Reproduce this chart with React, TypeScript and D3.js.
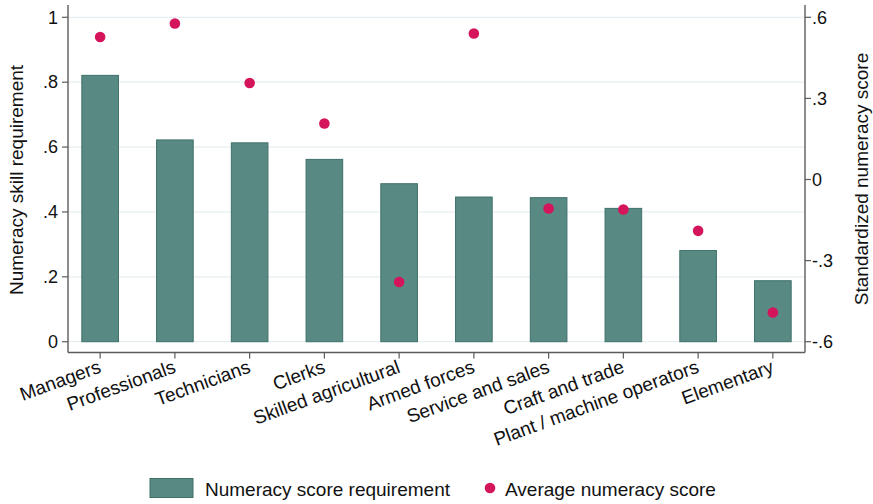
import React from "react";
import * as d3 from "d3";

const categories = [
  "Managers",
  "Professionals",
  "Technicians",
  "Clerks",
  "Skilled agricultural",
  "Armed forces",
  "Service and sales",
  "Craft and trade",
  "Plant / machine operators",
  "Elementary",
];
const requirement = [0.821, 0.622, 0.613, 0.562, 0.487, 0.446, 0.444, 0.411, 0.281, 0.188];
const avgScore = [0.527, 0.577, 0.357, 0.207, -0.379, 0.54, -0.107, -0.111, -0.19, -0.492];
const leftTicks = [0, 0.2, 0.4, 0.6, 0.8, 1];
const leftTickLabels = ["0", ".2", ".4", ".6", ".8", "1"];
const rightTicks = [-0.6, -0.3, 0, 0.3, 0.6];
const rightTickLabels = ["-.6", "-.3", "0", ".3", ".6"];

const W = 873;
const H = 504;
const left = 68;
const right = 805;
const yTop = 17.3;
const yZero = 341.7;
const axisBottom = 352.5;
const axisTop = 5;
const FONT = "'Liberation Sans', Arial, sans-serif";
const BAR = "#588a83";
const BAR_STROKE = "#3f716a";
const DOT = "#d5155b";
const AXIS = "#5c5c5c";
const TEXT = "#111";

export default function App() {
  const x = d3.scalePoint<string>().domain(categories).range([left, right]).padding(0.43);
  const step = x.step();
  const bw = step * 0.49;
  const yL = d3.scaleLinear().domain([0, 1]).range([yZero, yTop]);
  const yR = d3.scaleLinear().domain([-0.6, 0.6]).range([yZero, yTop]);

  return (
    <svg width={W} height={H} style={{ position: "absolute", left: 0, top: 0, background: "#fff" }} fontFamily={FONT}>
      {/* grid */}
      {leftTicks.map((t) => (
        <line key={"g" + t} x1={left} x2={right} y1={yL(t)} y2={yL(t)} stroke="#e7eef2" strokeWidth={1.3} />
      ))}
      {/* bars */}
      {categories.map((c, i) => (
        <rect
          key={"b" + c}
          x={(x(c) as number) - bw / 2}
          y={yL(requirement[i])}
          width={bw}
          height={yL(0) - yL(requirement[i])}
          fill={BAR}
          stroke={BAR_STROKE}
          strokeWidth={1}
        />
      ))}
      {/* dots */}
      {categories.map((c, i) => (
        <circle key={"d" + c} cx={x(c) as number} cy={yR(avgScore[i])} r={5.3} fill={DOT} />
      ))}
      {/* axes */}
      <line x1={left} x2={left} y1={axisTop} y2={axisBottom} stroke={AXIS} strokeWidth={1.4} />
      <line x1={right} x2={right} y1={axisTop} y2={axisBottom} stroke={AXIS} strokeWidth={1.4} />
      <line x1={left} x2={right} y1={axisBottom} y2={axisBottom} stroke={AXIS} strokeWidth={1.4} />
      {/* left ticks */}
      {leftTicks.map((t, i) => (
        <g key={"lt" + t}>
          <line x1={left - 6} x2={left} y1={yL(t)} y2={yL(t)} stroke={AXIS} strokeWidth={1.2} />
          <text x={left - 10} y={yL(t)} dy="0.35em" textAnchor="end" fontSize={18} fill={TEXT}>
            {leftTickLabels[i]}
          </text>
        </g>
      ))}
      {/* right ticks */}
      {rightTicks.map((t, i) => (
        <g key={"rt" + t}>
          <line x1={right} x2={right + 6} y1={yR(t)} y2={yR(t)} stroke={AXIS} strokeWidth={1.2} />
          <text x={right + 7} y={yR(t)} dy="0.35em" textAnchor="start" fontSize={18} fill={TEXT}>
            {rightTickLabels[i]}
          </text>
        </g>
      ))}
      {/* x ticks */}
      {categories.map((c) => (
        <g key={"xt" + c}>
          <line x1={x(c) as number} x2={x(c) as number} y1={axisBottom} y2={axisBottom + 6} stroke={AXIS} strokeWidth={1.2} />
          <text
            transform={`translate(${(x(c) as number) + 2},${372}) rotate(-20)`}
            textAnchor="end"
            fontSize={19}
            fill={TEXT}
          >
            {c}
          </text>
        </g>
      ))}
      {/* axis titles */}
      <text transform={`translate(23,180) rotate(-90)`} textAnchor="middle" fontSize={19} fill={TEXT}>
        Numeracy skill requirement
      </text>
      <text transform={`translate(868,179) rotate(-90)`} textAnchor="middle" fontSize={19} fill={TEXT}>
        Standardized numeracy score
      </text>
      {/* legend */}
      <rect x={150} y={478.5} width={43} height={19} fill={BAR} stroke={BAR_STROKE} strokeWidth={1} />
      <text x={205} y={496} fontSize={19} fill={TEXT}>
        Numeracy score requirement
      </text>
      <circle cx={490} cy={488} r={5.3} fill={DOT} />
      <text x={505} y={496} fontSize={19} fill={TEXT}>
        Average numeracy score
      </text>
    </svg>
  );
}
